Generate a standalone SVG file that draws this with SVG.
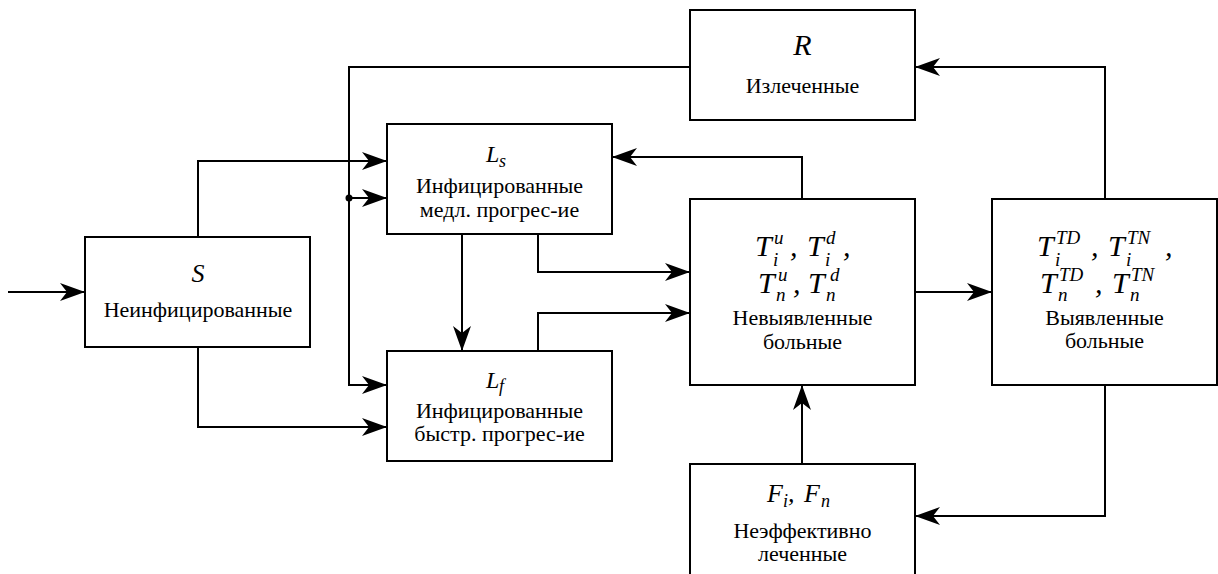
<svg xmlns="http://www.w3.org/2000/svg" width="1218" height="574" viewBox="0 0 1218 574" font-family="Liberation Serif, DejaVu Serif, serif">
<defs>
<marker id="arr" markerUnits="userSpaceOnUse" markerWidth="30" markerHeight="24" viewBox="-27 -12 30 24" refX="0" refY="0" orient="auto">
<path d="M0,0 L-25,-9 L-18,0 L-25,9 Z" fill="#000"/>
</marker>
</defs>
<style>
.box{fill:#fff;stroke:#000;stroke-width:2}
.ln{fill:none;stroke:#000;stroke-width:2;marker-end:url(#arr)}
.ru{font-size:22px;text-anchor:middle}
.m{font-style:italic}
.s{font-size:19px}
</style>
<g id="connectors">
<path class="ln" d="M8,292 H85"/>
<path class="ln" d="M198,237 V161 H387"/>
<path class="ln" d="M349,198 H387"/>
<path class="ln" d="M690,67 H349 V385 H387"/>
<path class="ln" d="M198,347 V427 H387"/>
<path class="ln" d="M462,234 V351"/>
<path class="ln" d="M538,234 V272 H690"/>
<path class="ln" d="M538,351 V313 H690"/>
<path class="ln" d="M802,199 V157 H612"/>
<path class="ln" d="M915,292 H992"/>
<path class="ln" d="M1105,199 V67 H915"/>
<path class="ln" d="M1105,385 V516 H915"/>
<path class="ln" d="M802,464 V385"/>
<circle cx="349" cy="198" r="3.5" fill="#000"/>
</g>
<g id="node-R">
<rect class="box" x="690" y="10" width="225" height="110"/>
<text class="m" x="802.5" y="55" font-size="30" text-anchor="middle">R</text>
<text class="ru" x="802.5" y="93">Излеченные</text>
</g>
<g id="node-S">
<rect class="box" x="85" y="237" width="225" height="110"/>
<text class="m" x="198" y="282" font-size="26" text-anchor="middle">S</text>
<text class="ru" x="198" y="317">Неинфицированные</text>
</g>
<g id="node-Ls">
<rect class="box" x="387" y="124" width="225" height="110"/>
<text class="m" font-size="24"><tspan x="486" y="162">L</tspan><tspan x="499" y="167" font-size="18">s</tspan></text>
<text class="ru" x="499.5" y="193">Инфицированные</text>
<text class="ru" x="499.5" y="217">медл. прогрес-ие</text>
</g>
<g id="node-Lf">
<rect class="box" x="387" y="351" width="225" height="110"/>
<text class="m" font-size="24"><tspan x="486" y="388">L</tspan><tspan x="499" y="392" font-size="18">f</tspan></text>
<text class="ru" x="499.5" y="418">Инфицированные</text>
<text class="ru" x="499.5" y="441">быстр. прогрес-ие</text>
</g>
<g id="node-T">
<rect class="box" x="690" y="199" width="225" height="186"/>
<text class="m" font-size="30"><tspan x="755" y="256">T</tspan><tspan class="s" x="774" y="244">u</tspan><tspan class="s" x="773" y="266">i</tspan><tspan x="790" y="256">,</tspan><tspan x="807" y="256">T</tspan><tspan class="s" x="826" y="244">d</tspan><tspan class="s" x="825" y="266">i</tspan><tspan x="843" y="256">,</tspan></text>
<text class="m" font-size="30"><tspan x="758" y="293">T</tspan><tspan class="s" x="778" y="281">u</tspan><tspan class="s" x="776" y="301">n</tspan><tspan x="793" y="293">,</tspan><tspan x="808" y="293">T</tspan><tspan class="s" x="830" y="281">d</tspan><tspan class="s" x="826" y="301">n</tspan></text>
<text class="ru" x="802.5" y="325">Невыявленные</text>
<text class="ru" x="802.5" y="349">больные</text>
</g>
<g id="node-TT">
<rect class="box" x="992" y="199" width="225" height="186"/>
<text class="m" font-size="30"><tspan x="1037" y="256">T</tspan><tspan class="s" x="1056" y="244">TD</tspan><tspan class="s" x="1055" y="266">i</tspan><tspan x="1091" y="256">,</tspan><tspan x="1108" y="256">T</tspan><tspan class="s" x="1127" y="244">TN</tspan><tspan class="s" x="1126" y="266">i</tspan><tspan x="1165" y="256">,</tspan></text>
<text class="m" font-size="30"><tspan x="1040" y="293">T</tspan><tspan class="s" x="1059" y="281">TD</tspan><tspan class="s" x="1058" y="301">n</tspan><tspan x="1095" y="293">,</tspan><tspan x="1112" y="293">T</tspan><tspan class="s" x="1131" y="281">TN</tspan><tspan class="s" x="1130" y="301">n</tspan></text>
<text class="ru" x="1104.5" y="325">Выявленные</text>
<text class="ru" x="1104.5" y="348">больные</text>
</g>
<g id="node-F">
<rect class="box" x="690" y="464" width="225" height="120"/>
<text class="m" font-size="26"><tspan x="767" y="502">F</tspan><tspan x="783" y="507" font-size="18">i</tspan><tspan x="788" y="502">,</tspan><tspan x="804" y="502">F</tspan><tspan x="821" y="507" font-size="18">n</tspan></text>
<text class="ru" x="802.5" y="538">Неэффективно</text>
<text class="ru" x="802.5" y="561">леченные</text>
</g>
</svg>
